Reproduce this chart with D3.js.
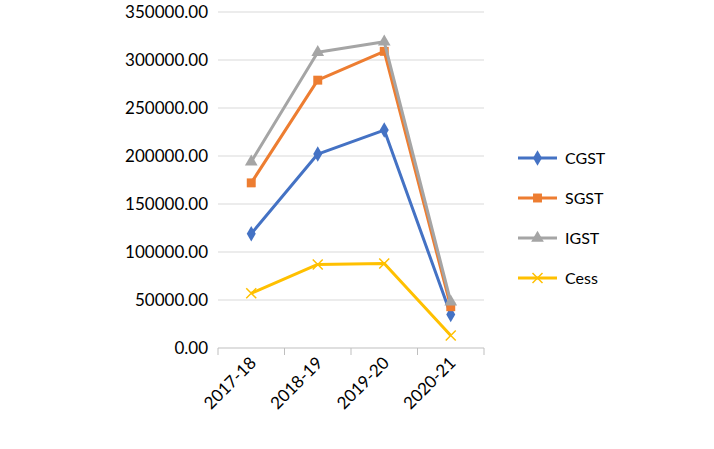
<!DOCTYPE html>
<html><head><meta charset="utf-8">
<script src="https://cdn.jsdelivr.net/npm/d3@7"></script>
<style>body{margin:0;background:#fff}text{font-family:Lato,"Open Sans",sans-serif;fill:#000}</style>
</head><body>
<script>
var years = ["2017-18", "2018-19", "2019-20", "2020-21"];
var cgst = [119000, 202000, 227000, 35000];
var sgst = [172000, 279000, 309000, 43000];
var igst = [194000, 308000, 319000, 48000];
var cess = [57000, 87000, 88000, 13000];
var yTicks = [0, 50000, 100000, 150000, 200000, 250000, 300000, 350000];

var series = [
  {name: "CGST", values: cgst, color: "#4472C4", sym: d3.symbolDiamond, size: 70},
  {name: "SGST", values: sgst, color: "#ED7D31", sym: d3.symbolSquare, size: 80},
  {name: "IGST", values: igst, color: "#A5A5A5", sym: d3.symbolTriangle, size: 70},
  {name: "Cess", values: cess, color: "#FFC000", sym: d3.symbolCross, size: 0}
];

var svg = d3.select("body").append("svg").attr("width", 714).attr("height", 449);

var x = d3.scaleBand().domain(years).range([218, 484]);
var y = d3.scaleLinear().domain([0, 350000]).range([348, 12]);

//gridlines
svg.append("g").selectAll("line").data(yTicks.slice(1)).join("line")
  .attr("x1", 218).attr("x2", 484).attr("y1", y).attr("y2", y)
  .attr("stroke", "#d9d9d9");

svg.append("g").selectAll("text").data(yTicks).join("text")
  .attr("x", 208).attr("y", function(d){ return y(d) + 6; })
  .attr("text-anchor", "end").style("font-size", "17px")
  .text(function(d){ return d.toFixed(2); });

//x axis
svg.append("line").attr("x1", 218).attr("x2", 484).attr("y1", 348).attr("y2", 348).attr("stroke", "#bfbfbf");
var bounds = years.map(function(d){ return x(d); }).concat([484]);
svg.append("g").selectAll("line").data(bounds).join("line")
  .attr("x1", function(d){ return d; }).attr("x2", function(d){ return d; })
  .attr("y1", 348).attr("y2", 355).attr("stroke", "#bfbfbf");
svg.append("g").selectAll("text").data(years).join("text")
  .attr("transform", function(d){ return "translate(" + (x(d) + x.bandwidth() / 2 + 6) + ",364) rotate(-45)"; })
  .attr("text-anchor", "end").style("font-size", "17px")
  .text(function(d){ return d; });

var line = d3.line()
  .x(function(d, i){ return x(years[i]) + x.bandwidth() / 2; })
  .y(function(d){ return y(d); });

function marker(g, s, cx, cy) {
  if (s.name === "Cess") {
    g.append("path").attr("d", "M-5,-5L5,5M-5,5L5,-5").attr("transform", "translate(" + cx + "," + cy + ")")
      .attr("stroke", s.color).attr("stroke-width", 1.5).attr("fill", "none");
  } else {
    g.append("path").attr("d", d3.symbol().type(s.sym).size(s.size)())
      .attr("transform", "translate(" + cx + "," + cy + ")").attr("fill", s.color);
  }
}

series.forEach(function(s, k){
  var g = svg.append("g");
  g.append("path").attr("d", line(s.values)).attr("fill", "none")
    .attr("stroke", s.color).attr("stroke-width", 3).attr("stroke-linejoin", "round");
  s.values.forEach(function(v, i){ marker(g, s, x(years[i]) + x.bandwidth() / 2, y(v)); });
  var ly = 158 + k * 40;
  g.append("line").attr("x1", 518).attr("x2", 557).attr("y1", ly).attr("y2", ly)
    .attr("stroke", s.color).attr("stroke-width", 3);
  marker(g, s, 537.5, ly);
  g.append("text").attr("x", 565).attr("y", ly + 6).style("font-size", "16px").text(s.name);
});
</script>
</body></html>
